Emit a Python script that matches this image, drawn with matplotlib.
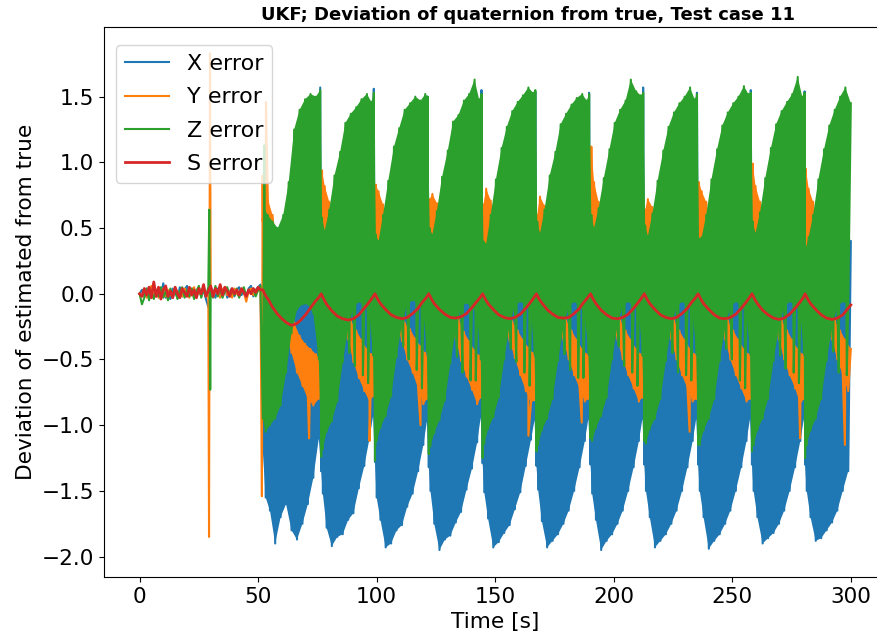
import numpy as np
import matplotlib
matplotlib.use("Agg")
import matplotlib.pyplot as plt

# ---------------- data ----------------
# quiet phase, 1 s steps from t = 0 to 51 s
t_early = np.arange(0, 52)
x_early = [0.00, 0.03, -0.02, 0.04, -0.03, 0.02, 0.05, -0.02, 0.03, -0.01,
           0.08, -0.03, 0.02, -0.04, 0.04, 0.01, -0.03, 0.05, -0.02, 0.03,
           0.06, -0.01, 0.04, -0.03, 0.02, 0.05, -0.02, 0.03, -0.04, -0.10,
           0.05, 0.02, -0.03, 0.04, 0.01, -0.02, 0.05, -0.03, 0.02, 0.04,
           -0.02, 0.03, 0.05, -0.01, 0.02, -0.03, 0.04, 0.06, -0.02, 0.03,
           0.05, 0.07]
y_early = [0.00, -0.02, 0.04, -0.03, 0.02, 0.06, -0.01, 0.03, -0.03, 0.02,
           0.04, -0.02, 0.03, 0.00, -0.03, 0.05, -0.01, 0.02, -0.02, 0.04,
           0.01, -0.03, 0.03, 0.05, -0.02, 0.02, -0.01, 0.04, 0.00, -0.02,
           0.03, -0.02, 0.04, 0.01, -0.03, 0.03, 0.05, -0.01, 0.02, -0.03,
           0.04, 0.00, -0.02, 0.03, 0.01, -0.06, 0.02, 0.04, -0.01, 0.03,
           0.02, 0.05]
z_early = [0.00, -0.08, -0.03, 0.04, -0.05, 0.02, -0.04, 0.03, -0.02, 0.05,
           -0.03, 0.02, -0.05, 0.04, -0.02, 0.03, -0.04, 0.02, 0.05, -0.03,
           0.03, -0.02, 0.04, -0.04, 0.02, 0.06, -0.03, 0.04, -0.02, 0.05,
           0.02, -0.03, 0.06, -0.02, 0.04, -0.03, 0.02, 0.05, -0.02, 0.03,
           -0.01, 0.04, -0.03, 0.02, 0.05, -0.02, 0.03, 0.00, 0.04, -0.02,
           0.03, 0.06]
s_early = [0.00, -0.02, 0.04, -0.01, 0.05, -0.03, 0.09, -0.02, 0.05, -0.04,
           0.03, 0.06, -0.02, 0.02, -0.03, 0.05, 0.00, -0.03, 0.04, 0.01,
           -0.02, 0.05, -0.01, 0.03, -0.03, 0.04, 0.00, 0.07, -0.02, 0.02,
           0.06, -0.02, 0.04, 0.00, 0.07, -0.01, 0.05, 0.02, -0.02, 0.04,
           0.00, 0.03, -0.01, 0.04, 0.01, -0.02, 0.03, 0.00, 0.04, 0.01,
           0.05, 0.03]

# single-sample spikes (disturbance at ~29.5 s, start of tumbling, outliers)
y_extra_t = [29.3, 29.7, 51.6, 51.9, 53.3, 71.5, 97.0, 118.5, 164.0, 186.5,
             232.0, 278.6, 297.5]
y_extra_v = [-1.85, 1.83, -1.54, 0.90, 1.46, -1.10, -1.12, -1.00, -1.08, -0.98,
             -1.05, -1.10, -1.15]
z_extra_t = [29.4, 29.8, 52.6,
             88.5, 90.8, 94.2, 96.4, 111.2, 113.5, 116.9, 119.1,
             133.9, 136.2, 139.6, 141.8, 156.6, 158.9, 162.3, 164.5,
             179.3, 181.6, 185.0, 187.2, 202.1, 204.4, 207.8, 210.0,
             224.8, 227.1, 230.5, 232.7, 247.5, 249.8, 253.2, 255.4,
             270.2, 272.5, 275.9, 278.1, 292.6, 294.9, 298.3]
z_extra_v = [0.64, -0.73, 1.13,
             -0.45, -0.55, -0.62, -0.68, -0.40, -0.50, -0.58, -0.72,
             -0.48, -0.60, -0.66, -0.66, -0.42, -0.52, -0.60, -0.70,
             -0.46, -0.58, -0.64, -0.64, -0.40, -0.55, -0.60, -0.70,
             -0.45, -0.60, -0.62, -0.66, -0.42, -0.50, -0.66, -0.72,
             -0.47, -0.57, -0.60, -0.68, -0.44, -0.60, -0.62]

# first tumbling segment, 52 s .. 76.6 s (successive minima / maxima)
f1_lo_t = [52.0, 53.2, 55.0, 57.2, 59.5, 61.8, 64.1, 66.4, 68.7, 71.0, 73.3, 75.6]
f1_hi_t = [52.5, 54.1, 56.1, 58.3, 60.6, 62.9, 65.2, 67.5, 69.8, 72.1, 74.4, 76.2]
x1_lo = [-1.20, -1.55, -1.65, -1.90, -1.70, -1.60, -1.80, -1.87, -1.75, -1.60, -1.40, -1.10]
x1_hi = [0.30, 0.10, 0.00, 0.05, 0.10, 0.20, 0.30, 0.40, 0.50, 0.70, 1.00, 1.57]
y1_lo = [0.55, 0.60, 0.45, 0.25, 0.00, -0.30, -0.45, -0.60, -0.70, -0.80, -0.85, -0.80]
y1_hi = [0.75, 0.72, 0.60, 0.40, 0.15, -0.10, -0.22, -0.32, -0.38, -0.42, -0.46, -0.50]
z1_lo = [-0.95, -1.05, -1.00, -0.95, -0.85, -0.60, -0.30, -0.12, -0.08, -0.08, -0.15, -0.50]
z1_hi = [0.65, 0.60, 0.55, 0.50, 0.60, 0.85, 1.25, 1.40, 1.48, 1.52, 1.50, 1.55]
s1_t = [52.0, 53.0, 54.5, 56.0, 58.0, 60.0, 62.0, 64.0, 66.0, 68.0, 70.0, 72.0, 74.0, 75.5]
s1_v = [0.03, -0.01, -0.05, -0.10, -0.15, -0.19, -0.22, -0.24, -0.23, -0.20, -0.16,
        -0.11, -0.06, -0.03]

# later tumbling periods: start times, and times of minima / maxima inside a period
cycle_start = [76.6, 99.3, 122.0, 144.7, 167.4, 190.2, 212.9, 235.6, 258.3, 280.7]
lo_offset = [0.0, 0.7, 2.3, 4.5, 6.8, 9.1, 11.4, 13.6, 15.9, 18.2, 20.4, 21.9]
hi_offset = [0.35, 1.5, 3.4, 5.6, 8.0, 10.2, 12.5, 14.8, 17.0, 19.3, 21.2, 22.2]
s_offset = [0.0, 1.1, 2.3, 4.5, 6.8, 9.1, 11.4, 13.6, 15.9, 18.2, 19.3, 20.4, 21.6]

z_hi = [
    [0.58, 0.48, 0.64, 0.90, 1.08, 1.30, 1.37, 1.42, 1.48, 1.52, 1.46, 1.53],
    [0.45, 0.40, 0.60, 0.86, 1.12, 1.26, 1.40, 1.45, 1.50, 1.47, 1.52, 1.50],
    [0.50, 0.45, 0.63, 0.89, 1.09, 1.31, 1.36, 1.47, 1.52, 1.63, 1.48, 1.52],
    [0.40, 0.38, 0.60, 0.87, 1.11, 1.27, 1.39, 1.46, 1.51, 1.57, 1.53, 1.55],
    [0.55, 0.46, 0.64, 0.90, 1.08, 1.29, 1.37, 1.44, 1.49, 1.52, 1.47, 1.52],
    [0.60, 0.50, 0.65, 0.88, 1.10, 1.30, 1.40, 1.47, 1.63, 1.54, 1.51, 1.53],
    [0.52, 0.44, 0.61, 0.86, 1.09, 1.27, 1.38, 1.45, 1.50, 1.57, 1.48, 1.52],
    [0.42, 0.43, 0.60, 0.87, 1.10, 1.28, 1.38, 1.45, 1.50, 1.58, 1.52, 1.53],
    [0.55, 0.46, 0.62, 0.88, 1.11, 1.29, 1.39, 1.46, 1.52, 1.65, 1.50, 1.53],
    [0.35, 0.43, 0.60, 0.87, 1.10, 1.28, 1.40, 1.50, 1.57, 1.45],
]
z_lo = [
    [-1.24, -1.18, -1.05, -0.97, -0.82, -0.52, -0.26, -0.11, -0.06, -0.09, -0.15, -0.47],
    [-1.27, -1.12, -1.02, -0.93, -0.78, -0.48, -0.23, -0.08, -0.05, -0.07, -0.13, -0.44],
    [-1.22, -1.16, -1.06, -0.96, -0.81, -0.53, -0.27, -0.10, -0.07, -0.10, -0.16, -0.50],
    [-1.25, -1.14, -1.03, -0.94, -0.79, -0.50, -0.24, -0.09, -0.06, -0.08, -0.14, -0.46],
    [-1.20, -1.15, -1.04, -0.95, -0.80, -0.51, -0.25, -0.10, -0.06, -0.09, -0.15, -0.45],
    [-1.10, -1.12, -1.02, -0.93, -0.79, -0.50, -0.24, -0.09, -0.06, -0.09, -0.14, -0.47],
    [-1.12, -1.14, -1.03, -0.95, -0.80, -0.51, -0.25, -0.10, -0.06, -0.09, -0.14, -0.45],
    [-1.15, -1.15, -1.04, -0.95, -0.80, -0.51, -0.25, -0.10, -0.06, -0.09, -0.15, -0.45],
    [-1.20, -1.15, -1.04, -0.95, -0.80, -0.51, -0.25, -0.10, -0.06, -0.08, -0.15, -0.45],
    [-1.25, -1.15, -1.04, -0.95, -0.80, -0.51, -0.25, -0.10, -0.06, -0.08],
]
x_hi = [
    [0.25, 0.05, -0.05, 0.02, 0.12, 0.18, 0.32, 0.38, 0.52, 0.68, 0.95, 1.56],
    [0.18, -0.02, -0.12, 0.00, 0.08, 0.22, 0.28, 0.42, 0.48, 0.72, 1.02, 1.50],
    [0.22, 0.02, -0.08, 0.03, 0.11, 0.19, 0.31, 0.39, 0.51, 0.69, 0.98, 1.55],
    [0.19, -0.01, -0.11, 0.01, 0.09, 0.21, 0.29, 0.41, 0.49, 0.71, 1.01, 1.54],
    [0.21, 0.01, -0.09, 0.02, 0.10, 0.20, 0.30, 0.40, 0.50, 0.70, 0.99, 1.53],
    [0.20, 0.00, -0.10, 0.00, 0.10, 0.20, 0.30, 0.40, 0.50, 0.70, 1.00, 1.57],
    [0.20, 0.00, -0.10, 0.00, 0.10, 0.20, 0.30, 0.40, 0.50, 0.70, 1.00, 1.53],
    [0.20, 0.00, -0.10, 0.00, 0.10, 0.20, 0.30, 0.40, 0.50, 0.70, 1.00, 1.55],
    [0.20, 0.00, -0.10, 0.00, 0.10, 0.20, 0.30, 0.40, 0.50, 0.70, 1.00, 1.54],
    [0.20, 0.00, -0.10, 0.00, 0.10, 0.20, 0.30, 0.40, 0.50, 0.40],
]
x_lo = [
    [-1.35, -1.52, -1.78, -1.92, -1.85, -1.83, -1.72, -1.67, -1.48, -1.31, -1.10, -0.93],
    [-1.28, -1.55, -1.72, -1.93, -1.90, -1.80, -1.76, -1.62, -1.52, -1.35, -1.15, -0.97],
    [-1.32, -1.50, -1.75, -1.95, -1.87, -1.84, -1.74, -1.66, -1.49, -1.33, -1.13, -0.94],
    [-1.29, -1.51, -1.71, -1.93, -1.89, -1.82, -1.76, -1.64, -1.51, -1.31, -1.11, -0.96],
    [-1.31, -1.49, -1.73, -1.93, -1.88, -1.83, -1.75, -1.65, -1.50, -1.32, -1.12, -0.95],
    [-1.30, -1.52, -1.72, -1.95, -1.88, -1.83, -1.75, -1.65, -1.50, -1.32, -1.12, -0.95],
    [-1.30, -1.50, -1.70, -1.93, -1.88, -1.83, -1.75, -1.65, -1.50, -1.32, -1.12, -0.95],
    [-1.30, -1.50, -1.70, -1.94, -1.88, -1.83, -1.75, -1.65, -1.50, -1.32, -1.12, -0.95],
    [-1.30, -1.50, -1.70, -1.90, -1.86, -1.82, -1.75, -1.65, -1.50, -1.32, -1.12, -0.95],
    [-1.30, -1.50, -1.70, -1.88, -1.86, -1.80, -1.74, -1.65, -1.50, -1.35],
]
y_hi = [
    [0.94, 0.82, 0.70, 0.45, 0.20, 0.00, -0.20, -0.28, -0.35, -0.42, -0.46, -0.48],
    [0.83, 0.78, 0.68, 0.43, 0.18, -0.02, -0.22, -0.27, -0.34, -0.40, -0.45, -0.49],
    [0.72, 0.76, 0.69, 0.46, 0.21, 0.01, -0.19, -0.29, -0.36, -0.43, -0.47, -0.47],
    [0.68, 0.80, 0.71, 0.44, 0.19, -0.01, -0.21, -0.28, -0.35, -0.41, -0.45, -0.49],
    [0.60, 0.74, 0.67, 0.45, 0.20, 0.00, -0.20, -0.28, -0.35, -0.42, -0.46, -0.48],
    [1.12, 0.85, 0.70, 0.45, 0.20, 0.00, -0.20, -0.28, -0.35, -0.42, -0.46, -0.47],
    [0.64, 0.72, 0.66, 0.45, 0.20, 0.00, -0.20, -0.28, -0.35, -0.42, -0.46, -0.48],
    [0.85, 0.78, 0.70, 0.45, 0.20, 0.00, -0.20, -0.28, -0.35, -0.42, -0.46, -0.48],
    [0.99, 0.82, 0.70, 0.45, 0.20, 0.00, -0.20, -0.28, -0.35, -0.42, -0.46, -0.48],
    [0.95, 0.80, 0.70, 0.45, 0.20, 0.00, -0.20, -0.28, -0.35, -0.42],
]
y_lo = [
    [-0.72, 0.32, 0.40, 0.30, 0.05, -0.20, -0.35, -0.52, -0.64, -0.74, -0.82, -0.78],
    [-0.70, 0.36, 0.38, 0.28, 0.04, -0.22, -0.36, -0.50, -0.60, -0.72, -0.84, -0.80],
    [-0.74, 0.33, 0.41, 0.31, 0.06, -0.19, -0.34, -0.51, -0.63, -0.73, -0.84, -0.79],
    [-0.76, 0.34, 0.39, 0.29, 0.05, -0.21, -0.36, -0.49, -0.62, -0.74, -0.83, -0.81],
    [-0.75, 0.35, 0.40, 0.30, 0.05, -0.20, -0.35, -0.50, -0.62, -0.72, -0.82, -0.80],
    [-0.74, 0.36, 0.41, 0.30, 0.05, -0.20, -0.35, -0.50, -0.62, -0.72, -0.82, -0.79],
    [-0.75, 0.43, 0.40, 0.30, 0.05, -0.20, -0.35, -0.50, -0.62, -0.72, -0.82, -0.80],
    [-0.75, 0.41, 0.40, 0.30, 0.05, -0.20, -0.35, -0.50, -0.62, -0.72, -0.82, -0.80],
    [-0.75, 0.33, 0.40, 0.30, 0.05, -0.20, -0.35, -0.50, -0.62, -0.72, -0.84, -0.80],
    [-0.75, 0.33, 0.40, 0.30, 0.05, -0.20, -0.35, -0.50, -0.62, -0.74],
]
s_cyc = [
    [0.0, -0.04, -0.08, -0.13, -0.17, -0.19, -0.20, -0.19, -0.16, -0.11, -0.085, -0.06, -0.03],
    [0.0, -0.04, -0.075, -0.12, -0.16, -0.18, -0.19, -0.18, -0.15, -0.11, -0.08, -0.055, -0.03],
    [0.0, -0.04, -0.075, -0.12, -0.155, -0.18, -0.185, -0.175, -0.15, -0.105, -0.08, -0.055, -0.03],
    [0.0, -0.04, -0.075, -0.12, -0.16, -0.18, -0.19, -0.18, -0.155, -0.11, -0.085, -0.06, -0.03],
    [0.0, -0.04, -0.07, -0.12, -0.155, -0.18, -0.185, -0.18, -0.15, -0.11, -0.08, -0.055, -0.03],
    [0.0, -0.04, -0.075, -0.125, -0.16, -0.185, -0.19, -0.18, -0.155, -0.11, -0.085, -0.06, -0.03],
    [0.0, -0.04, -0.075, -0.12, -0.16, -0.18, -0.19, -0.18, -0.15, -0.11, -0.08, -0.055, -0.03],
    [0.0, -0.04, -0.075, -0.12, -0.16, -0.185, -0.19, -0.18, -0.155, -0.11, -0.085, -0.06, -0.03],
    [0.0, -0.04, -0.075, -0.125, -0.16, -0.185, -0.195, -0.185, -0.155, -0.11, -0.085, -0.06, -0.03],
    [0.0, -0.04, -0.075, -0.12, -0.16, -0.185, -0.195, -0.185, -0.16, -0.11, -0.085],
]

labels = ["X error", "Y error", "Z error", "S error"]
colors = ["#1f77b4", "#ff7f0e", "#2ca02c", "#d62728"]


# ---------------- series assembly ----------------
def merge(t_a, v_a, t_b, v_b):
    """Merge two sample sets into one time-ordered trace."""
    t = list(t_a) + list(t_b)
    v = list(v_a) + list(v_b)
    order = np.argsort(t, kind="stable")
    return [t[i] for i in order], [v[i] for i in order]


def edges(first_lo, first_hi, lo_list, hi_list):
    """Times/values of the minima and of the maxima over the tumbling phase."""
    lt, lv = list(f1_lo_t), list(first_lo)
    ht, hv = list(f1_hi_t), list(first_hi)
    for b, lo, hi in zip(cycle_start, lo_list, hi_list):
        lt += [b + o for o in lo_offset[:len(lo)]]
        lv += lo
        ht += [b + o for o in hi_offset[:len(hi)]]
        hv += hi
    return lt, lv, ht, hv


def trace(early_v, edge, extra_t=(), extra_v=()):
    lt, lv, ht, hv = edge
    t, v = merge(lt, lv, ht, hv)
    t, v = merge(list(t_early) + t, list(early_v) + v, extra_t, extra_v)
    return t, v


x_edge = edges(x1_lo, x1_hi, x_lo, x_hi)
y_edge = edges(y1_lo, y1_hi, y_lo, y_hi)
z_edge = edges(z1_lo, z1_hi, z_lo, z_hi)

x_t, x_v = trace(x_early, x_edge)
y_t, y_v = trace(y_early, y_edge, y_extra_t, y_extra_v)
z_t, z_v = trace(z_early, z_edge, z_extra_t, z_extra_v)

s_t = list(t_early) + s1_t
s_v = s_early + s1_v
for b, vals in zip(cycle_start, s_cyc):
    s_t += [b + o for o in s_offset[:len(vals)]]
    s_v += vals

# ---------------- figure ----------------
W, H = 878, 639
fig = plt.figure(figsize=(W / 100, H / 100), dpi=100)
ax = fig.add_axes([104 / W, 62 / H, 782.4 / W, 550 / H])


def band(edge, color, z):
    # the fast oscillation covers the area between its minima and maxima
    lt, lv, ht, hv = edge
    ax.fill(list(lt) + list(ht)[::-1], list(lv) + list(hv)[::-1],
            color=color, lw=0, zorder=z)


band(x_edge, colors[0], 2.0)
ax.plot(x_t, x_v, color=colors[0], lw=1.5, label=labels[0], zorder=2.1)
band(y_edge, colors[1], 2.2)
ax.plot(y_t, y_v, color=colors[1], lw=1.5, label=labels[1], zorder=2.3)
band(z_edge, colors[2], 2.4)
ax.plot(z_t, z_v, color=colors[2], lw=1.5, label=labels[2], zorder=2.5)
ax.plot(s_t, s_v, color=colors[3], lw=2.0, label=labels[3], zorder=2.6)

ax.set_xlim(-15, 315)
ax.set_ylim(-2.155, 2.03)
ax.set_xticks([0, 50, 100, 150, 200, 250, 300])
ax.set_yticks([-2.0, -1.5, -1.0, -0.5, 0.0, 0.5, 1.0, 1.5])
ax.tick_params(labelsize=15.6)

ax.set_xlabel("Time [s]", fontsize=15.6)
ax.set_ylabel("Deviation of estimated from true", fontsize=15.6)
ax.set_title("UKF; Deviation of quaternion from true, Test case 11",
             fontsize=13, fontweight="bold", x=0.542, pad=5)
ax.legend(loc="upper left", bbox_to_anchor=(0.0153, 0.967), borderaxespad=0,
          fontsize=16, labelspacing=0.6)

fig.savefig("out.png", dpi=100)
